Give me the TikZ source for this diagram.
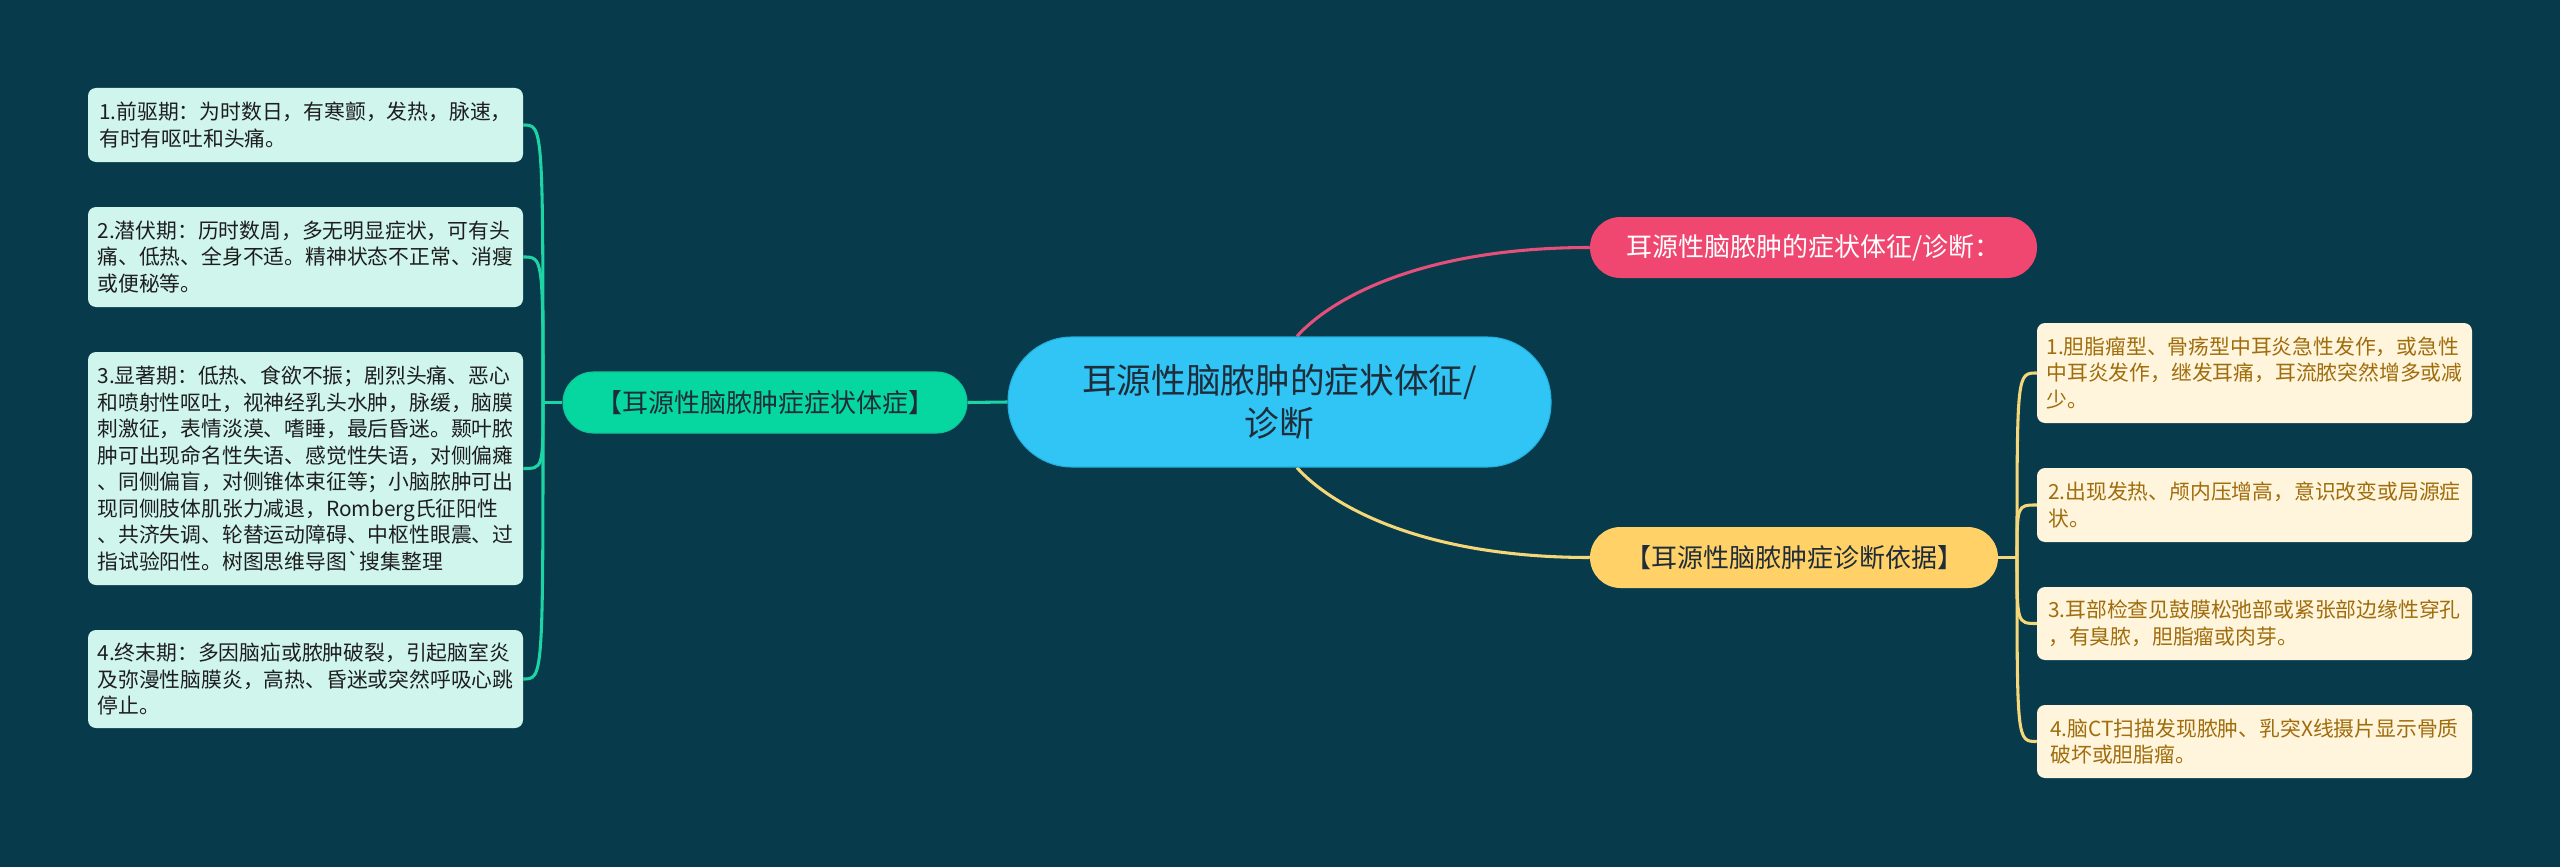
\documentclass[tikz,border=0pt]{standalone}
\usepackage{fontspec}
\setmainfont{Noto Sans CJK SC}
\usetikzlibrary{backgrounds,calc}
\definecolor{bg}{HTML}{073B4C}
\definecolor{cmain}{HTML}{30C5F4}
\definecolor{cmainb}{HTML}{22B0DE}
\definecolor{cgreen}{HTML}{06D6A0}
\definecolor{cgreenb}{HTML}{10C596}
\definecolor{cgreenl}{HTML}{1ED3A4}
\definecolor{cpink}{HTML}{EF476F}
\definecolor{cpinkl}{HTML}{E4507A}
\definecolor{cyel}{HTML}{FFD166}
\definecolor{cyell}{HTML}{F5D77A}
\definecolor{lleaf}{HTML}{CFF5EC}
\definecolor{rleaf}{HTML}{FEF5DC}
\definecolor{rtext}{HTML}{A06C0C}
\definecolor{dtext}{HTML}{1E1E1E}
\definecolor{ctext}{HTML}{1F2D3A}
\tikzset{
  leafbox/.style={rounded corners=6pt, minimum width=326.25pt, align=left, inner sep=0pt,
    font=\fontsize{15.6}{19.9}\selectfont},
  lleafbox/.style={leafbox, fill=lleaf, text=dtext},
  rleafbox/.style={leafbox, fill=rleaf, text=rtext},
  pill/.style={rounded corners=22.8pt, minimum height=45.75pt, inner sep=0pt,
    font=\fontsize{19.5}{24}\selectfont},
  conn/.style={line width=2.3pt},
}
\begin{document}
\begin{tikzpicture}[x=0.75pt,y=-0.75pt]
% central
\node[fill=cmain, draw=cmainb, line width=0.8pt, rounded corners=48pt, minimum width=407.25pt,
  minimum height=97.5pt, inner sep=0pt, align=center, text=ctext,
  font=\fontsize{26}{32.5}\selectfont] (central) at (1279.5,402) {耳源性脑脓肿的症状体征/\\诊断};
% branches
\node[pill, fill=cgreen, draw=cgreenb, line width=0.8pt, minimum width=303pt, text=ctext] (green) at (765,402.5) {【耳源性脑脓肿症症状体症】};
\node[pill, fill=cpink, minimum width=335.25pt, text=white] (pink) at (1813.5,247.5) {耳源性脑脓肿的症状体征/诊断：};
\node[pill, fill=cyel, minimum width=306pt, text=ctext] (yel) at (1794,557.5) {【耳源性脑脓肿症诊断依据】};
% left leaves
\node[lleafbox, minimum height=55.5pt] (l1) at (305.5,125) {1.前驱期：为时数日，有寒颤，发热，脉速，\\有时有呕吐和头痛。};
\node[lleafbox, minimum height=75pt] (l2) at (305.5,257) {2.潜伏期：历时数周，多无明显症状，可有头\\痛、低热、全身不适。精神状态不正常、消瘦\\或便秘等。};
\node[lleafbox, minimum height=174.75pt] (l3) at (305.5,468.5) {3.显著期：低热、食欲不振；剧烈头痛、恶心\\和喷射性呕吐，视神经乳头水肿，脉缓，脑膜\\刺激征，表情淡漠、嗜睡，最后昏迷。颞叶脓\\肿可出现命名性失语、感觉性失语，对侧偏瘫\\、同侧偏盲，对侧锥体束征等；小脑脓肿可出\\现同侧肢体肌张力减退，Romberg氏征阳性\\、共济失调、轮替运动障碍、中枢性眼震、过\\指试验阳性。树图思维导图\textasciigrave 搜集整理};
\node[lleafbox, minimum height=73.5pt] (l4) at (305.5,679) {4.终末期：多因脑疝或脓肿破裂，引起脑室炎\\及弥漫性脑膜炎，高热、昏迷或突然呼吸心跳\\停止。};
% right leaves
\node[rleafbox, minimum height=75pt] (r1) at (2254.5,373) {1.胆脂瘤型、骨疡型中耳炎急性发作，或急性\\中耳炎发作，继发耳痛，耳流脓突然增多或减\\少。};
\node[rleafbox, minimum height=55.5pt] (r2) at (2254.5,505) {2.出现发热、颅内压增高，意识改变或局源症\\状。};
\node[rleafbox, minimum height=54.75pt] (r3) at (2254.5,623.5) {3.耳部检查见鼓膜松弛部或紧张部边缘性穿孔\\，有臭脓，胆脂瘤或肉芽。};
\node[rleafbox, minimum height=54.75pt] (r4) at (2254.5,741.5) {4.脑CT扫描发现脓肿、乳突X线摄片显示骨质\\破坏或胆脂瘤。};
\coordinate (lsp) at (543,402.5);
\coordinate (rsp) at (2017,557.5);
\begin{scope}[on background layer]
  \fill[bg] (0,0) rectangle (2560,867);
  \draw[conn, cgreenl] (central.west) -- (green.east);
  \draw[conn, cgreenl] (green.west) -- (lsp);
  \foreach \n in {l1,l2,l3,l4}{
    \draw[conn, cgreenl] (lsp) .. controls (lsp |- \n.east) and (lsp |- \n.east) .. (\n.east);
  }
  \draw[conn, cpinkl] ([xshift=13pt]central.north) .. controls +(33,-37) and +(-170,0) .. (pink.west);
  \draw[conn, cyell] ([xshift=13pt]central.south) .. controls +(33,37) and +(-170,0) .. (yel.west);
  \draw[conn, cyell] (yel.east) -- (rsp);
  \foreach \n in {r1,r2,r3,r4}{
    \draw[conn, cyell] (rsp) .. controls (rsp |- \n.west) and (rsp |- \n.west) .. (\n.west);
  }
\end{scope}
\end{tikzpicture}
\end{document}
